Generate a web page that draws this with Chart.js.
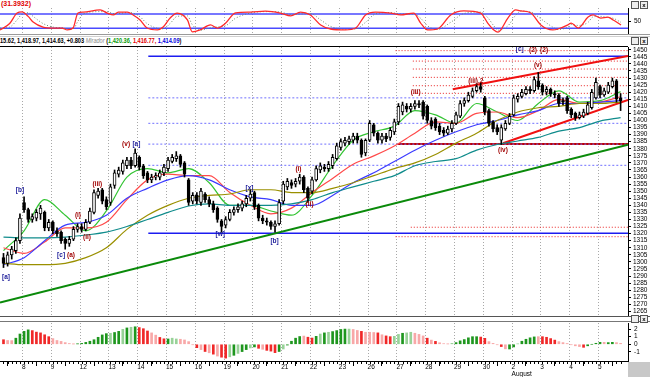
<!DOCTYPE html>
<html><head><meta charset="utf-8">
<script src="https://cdn.jsdelivr.net/npm/chart.js@4.4.0/dist/chart.umd.min.js"></script>
<style>
html,body{margin:0;padding:0;background:#fff;}
#wrap{position:relative;width:650px;height:377px;overflow:hidden;background:#fff;font-family:"Liberation Sans",Arial,sans-serif;}
canvas{position:absolute;left:0;}
.t{position:absolute;white-space:nowrap;line-height:1;}
.ln{position:absolute;}
.ic{position:absolute;width:6px;height:6px;border:1px solid #555;background:#eee;font:bold 6px "Liberation Sans",Arial;line-height:6px;text-align:center;color:#000;}
</style></head><body>
<div id="wrap">
<canvas id="osc" width="650" height="26" style="top:8px"></canvas>
<canvas id="main" width="650" height="269" style="top:47px"></canvas>
<canvas id="hist" width="650" height="54" style="top:323px"></canvas>

<div class="t" style="left:1px;top:0px;font:bold 7px 'Liberation Sans',Arial;color:#e00000">(31.3932)</div>
<div class="ic" style="left:631px;top:1px"></div><div class="ic" style="left:640px;top:1px">x</div>
<div class="ln" style="left:0;top:34px;width:650px;height:1px;background:#9a9a9a"></div>
<div class="ln" style="left:0;top:36px;width:650px;height:1px;background:#d0d0d0"></div>
<div class="t" style="left:0px;top:37px;font:bold 6.5px 'Liberation Sans Narrow','Liberation Sans',Arial;color:#000;transform:scaleX(0.86);transform-origin:0 0">15.62, 1,418.97, 1,414.63, +0.803 <span style="color:#8a8a8a;font-style:italic;font-weight:normal">Mirador</span> (<span style="color:#0a9a0a">1,420.36,</span> <span style="color:#e00000">1,416.77,</span> <span style="color:#0000e0">1,414.09</span>)</div>
<div class="ic" style="left:631px;top:37px"></div><div class="ic" style="left:640px;top:37px">x</div>
<div class="ln" style="left:0;top:46px;width:628px;height:1px;background:#000"></div>
<div class="ln" style="left:0;top:316px;width:650px;height:1px;background:#555"></div>
<div class="ln" style="left:0;top:321px;width:650px;height:1px;background:#777"></div>
<div class="ic" style="left:631px;top:315px"></div><div class="ic" style="left:640px;top:315px">x</div>
<div class="ln" style="left:628px;top:362px;width:22px;height:15px;background:#c8c8c8"></div>
</div>
<script>
// ---------- DATA ----------
const dayLabels = ['8','9','12','13','14','15','16','19','20','21','22','23','26','27','28','29','30','2','3','4','5'];
const dayStartIdx = [5,12,19,26,33,40,47,54,61,68,75,82,89,96,103,110,117,124,131,138,145];
const monthLabel = 'August';
const monthAt = 17;
const priceTicks = [1265,1270,1275,1280,1285,1290,1295,1300,1305,1310,1315,1320,1325,1330,1335,1340,1345,1350,1355,1360,1365,1370,1375,1380,1385,1390,1395,1400,1405,1410,1415,1420,1425,1430,1435,1440,1445,1450];

const opens = [1303,1299,1305,1308,1315,1342,1337,1330,1331,1334, 1335,1324,1328,1322,1321,1316,1313,1316,1323,1325, 1323,1328,1335,1347,1351,1344,1342,1354,1362,1364, 1368,1372,1368,1374,1368,1363,1358,1360,1360,1363, 1366,1371,1373,1375,1370,1358,1343,1347,1342,1348, 1344,1341,1338,1329,1326,1330,1335,1337,1338,1341, 1345,1349,1340,1331,1329,1328,1325,1327,1343,1353, 1356,1355,1357,1360,1352,1350,1358,1365,1367,1366, 1368,1373,1381,1384,1385,1386,1389,1386,1377,1386, 1397,1391,1386,1389,1388,1392,1399,1406,1410,1408, 1410,1412,1413,1410,1400,1401,1396,1393,1391,1394, 1398,1403,1412,1414,1417,1421,1424,1416,1407,1399, 1395,1386,1394,1398,1404,1415,1417,1419,1422,1421, 1428,1425,1420,1422,1419,1418,1414,1416,1408,1405, 1402,1403,1405,1409,1416,1424,1418,1420,1424,1428, 1416];
const highs = [1306,1307,1311,1317,1334,1346,1338,1334,1337,1340, 1336,1330,1329,1324,1322,1317,1318,1325,1327,1327, 1330,1338,1351,1352,1352,1346,1355,1365,1367,1372, 1374,1374,1380,1375,1369,1364,1362,1363,1365,1369, 1374,1376,1378,1376,1371,1359,1349,1349,1352,1349, 1346,1343,1339,1330,1332,1337,1339,1341,1343,1347, 1351,1350,1341,1333,1331,1329,1329,1344,1357,1359, 1358,1359,1362,1361,1353,1360,1368,1370,1369,1371, 1376,1384,1387,1388,1389,1391,1391,1387,1387,1400, 1398,1392,1391,1391,1395,1401,1412,1413,1412,1412, 1414,1414,1414,1411,1402,1402,1398,1395,1396,1400, 1406,1414,1416,1420,1423,1426,1427,1417,1408,1400, 1397,1397,1400,1405,1418,1419,1422,1424,1424,1431, 1434,1426,1424,1423,1421,1419,1416,1417,1409,1406, 1406,1408,1413,1422,1430,1425,1423,1427,1430,1429, 1419];
const lows = [1296,1297,1302,1306,1313,1335,1328,1328,1329,1330, 1322,1322,1320,1318,1313,1309,1311,1315,1321,1321, 1322,1327,1334,1345,1341,1337,1340,1352,1360,1362, 1366,1366,1367,1365,1359,1356,1356,1358,1358,1361, 1364,1370,1371,1367,1360,1340,1341,1341,1340,1342, 1339,1335,1328,1321,1324,1329,1333,1335,1336,1339, 1343,1337,1329,1327,1326,1323,1321,1326,1341,1351, 1352,1353,1355,1349,1342,1348,1357,1363,1364,1364, 1366,1372,1379,1382,1383,1384,1384,1374,1375,1385, 1389,1384,1384,1385,1386,1390,1397,1404,1406,1406, 1408,1409,1401,1398,1394,1393,1390,1389,1390,1392, 1397,1402,1410,1413,1416,1420,1420,1404,1396,1392, 1390,1383,1393,1397,1403,1413,1416,1418,1419,1420, 1422,1418,1418,1417,1416,1410,1411,1405,1402,1400, 1401,1402,1404,1408,1415,1416,1417,1419,1423,1413, 1407];
const closes = [1299,1305,1309,1315,1331,1337,1330,1332,1335,1338, 1324,1328,1322,1320,1315,1313,1316,1323,1325,1323, 1328,1336,1349,1350,1343,1339,1353,1363,1365,1370, 1372,1368,1377,1367,1361,1358,1360,1361,1363,1367, 1372,1374,1375,1369,1362,1342,1347,1343,1350,1344, 1341,1337,1330,1325,1330,1335,1337,1339,1341,1345, 1348,1339,1331,1329,1328,1325,1327,1342,1355,1357, 1354,1357,1360,1351,1345,1358,1366,1368,1366,1369, 1374,1382,1385,1386,1387,1389,1386,1376,1386,1398, 1391,1386,1389,1387,1393,1399,1410,1411,1408,1410, 1412,1411,1403,1400,1396,1395,1392,1391,1394,1398, 1404,1412,1414,1418,1421,1424,1422,1406,1398,1394, 1392,1395,1398,1403,1416,1417,1420,1422,1421,1429, 1424,1420,1422,1419,1418,1412,1413,1407,1404,1402, 1404,1406,1411,1420,1427,1418,1421,1425,1428,1415, 1414];

// moving averages read every 5 bars
const maIdx = [0,5,10,15,20,25,30,35,40,45,50,55,60,65,70,75,80,85,90,95,100,105,110,115,120,125,130,135,140,145,150];
const maGreen = [1308,1322,1344,1333,1322,1336,1360,1366,1363,1366,1356,1340,1340,1336,1333,1347,1368,1386,1392,1396,1407,1404,1398,1412,1406,1400,1412,1421,1413,1414,1420.4];
const maRed = [1310,1306,1314,1324,1324,1328,1344,1358,1362,1361,1361,1349,1340,1334,1338,1349,1359,1369,1375,1382,1391,1399,1398,1405,1406,1402,1407,1415,1412,1413,1416.8];
const maBlue = [1298,1303,1315,1326,1328,1333,1345,1352,1358,1361,1358,1351,1346,1344,1340,1340,1347,1356,1363,1371,1379,1386,1392,1397,1400,1404,1407,1412,1412,1413,1414.1];
const maOlive = [1299,1298,1298,1299,1303,1310,1323,1333,1340,1345,1347,1348,1351,1351,1349,1349,1352,1356,1361,1366,1370,1376,1384,1391,1400,1406,1409,1410,1412,1412,1413];
const maTeal = [1317.5,1317,1317,1317.5,1319,1321,1325,1330,1335,1339.5,1341,1340,1340,1340,1341,1344,1349,1353,1357,1361,1368,1371,1373,1379,1383,1385.5,1388,1392.5,1395,1399.6,1402];

// horizontal levels and trend lines
const blueSolidLevels = [1445.5, 1320.2];
const blueDotLevels = [1416, 1398, 1383.3, 1368.3];
const levelStartBlue = 35.2;
const redDotLevels = [1449.4, 1442, 1436.4, 1430.5, 1424.6, 1419.2, 1324.5, 1317.8];
const redDotStart = [95.3, 99.5, 99.5, 99.5, 99.5, 99.5, 99, 95.3];
const redSolidLevels = [1383.3];
const redSolidStart = 95.8;
const greenTrendIdx = [-0.85, 151.8], greenTrendVal = [1271.3, 1382.9];
const redUpperIdx = [109.2, 151.8], redUpperVal = [1422.1, 1445.6];
const redLowerIdx = [121.4, 151.8], redLowerVal = [1383.9, 1414.5];

// wave labels
const waveText = ['[a]','[b]','[c]','(a)','(i)','(ii)','(iii)','(v)','[a]','[w]','[x]','[b]','(i)','(ii)','(iii)','(iii).2','(v)','[c]','(2)','(2)','(iv)'];
const waveIdx = [0.6,4,14,16.4,18.1,20.3,22.8,29.8,32.3,52.7,59.8,65.9,71.7,74.4,100.2,114.8,129.9,125.5,128.7,131.4,121.4];
const wavePrice = [1289.3,1350.8,1304.9,1304.9,1333.2,1317.6,1355.1,1383.4,1383.4,1319.7,1352.3,1314.8,1365.7,1340.9,1420.1,1427.9,1439.2,1450.6,1449.9,1449.9,1379.1];
const waveKind = ['b','b','b','r','r','r','r','r','b','b','b','b','r','r','r','r','r','b','r','r','r'];

// top oscillator (stochastic-like)
const oscIdx = [-0.85,1.5,3.3,4.5,6,7.2,9.6,12.1,14.2,15.5,16.9,18.1,19.4,23.5,25.2,26.7,27.9,30.1,31.5,33.2,34.9,37.4,38.8,40.5,42.2,44.7,45.9,47.8,50.3,52,53.9,56.4,60,63.7,67.3,69.8,72.2,74.6,77.1,79.5,83.1,85.6,88,90.4,94.1,96.5,99.7,101.4,103.1,105.5,108.7,111.9,116,117.7,119.2,120.2,122.6,124.5,125.8,128.2,130.6,133.5,134.8,137.2,138,139.7,142.1,143.3,145.2,146.9,148.2,150.1];
const oscK = [13,40,84,89,70,46,25,21,21,13,21,84,88,97,84,76,88,88,76,55,21,13,25,63,84,55,5,13,34,21,40,85,88,92,84,72,88,76,34,17,13,21,76,88,84,76,84,42,13,17,76,93,84,42,13,4,63,97,93,84,34,13,17,34,42,21,67,76,63,67,55,34];
const oscD = [20,25,55,80,85,70,40,25,22,18,17,50,80,90,90,82,82,86,84,68,40,20,18,40,70,72,35,12,22,26,30,62,84,90,88,78,80,82,55,28,16,17,45,80,86,80,80,62,30,15,45,82,88,65,30,12,30,75,92,88,60,25,15,25,36,32,45,68,70,65,62,45];
const oscLevels = [80, 20];
const oscTicks = [50];

// bottom histogram
const histVals = [0.6,0.5,0.48,0.8,1.35,1.7,1.9,1.8,1.6,1.5, 1.25,1.0,0.75,0.5,0.38,0.22,0.1,0.03,0.05,0.12, 0.25,0.4,0.6,0.92,1.23,1.4,1.45,1.55,1.7,1.97, 2.15,2.24,2.3,2.2,2.05,1.75,1.5,1.2,0.9,0.72, 0.7,0.8,0.7,0.66,0.57,0.35,-0.05,-0.45,-0.7,-0.95, -1.12,-1.3,-1.55,-1.7,-1.82,-1.65,-1.45,-1.2,-0.96,-0.7, -0.48,-0.35,-0.53,-0.66,-0.8,-0.9,-1.1,-0.95,-0.62,-0.1, 0.4,0.8,1.02,1.08,0.93,0.82,1.05,1.35,1.5,1.58, 1.67,1.8,1.95,2.0,2.0,1.95,1.82,1.7,1.58,1.58, 1.55,1.5,1.25,1.1,1.0,1.05,1.3,1.45,1.5,1.58, 1.45,1.3,1.1,0.8,0.55,0.38,0.2,0.08,0.04,0.12, 0.22,0.45,0.62,0.85,1.0,1.0,0.95,0.78,0.35,0.12, -0.05,-0.3,-0.6,-0.62,-0.35,0.05,0.4,0.66,0.85,0.97, 1.0,1.0,0.92,0.75,0.55,0.35,0.22,0.1,-0.05,-0.2, -0.3,-0.4,-0.2,0.0,0.13,0.26,0.26,0.22,0.26,0.22, 0.12];
const histKind = ['r','p','p','g','g','g','g','r','r','r', 'r','r','p','p','p','p','p','p','g','g', 'g','g','g','g','g','g','lg','g','g','lg', 'g','lg','g','r','r','r','p','p','r','r', 'g','lg','lg','p','p','p','p','r','p','r', 'p','r','p','r','r','lg','g','lg','g','g', 'lg','g','r','p','r','r','r','g','lg','g', 'g','g','g','p','r','r','g','lg','g','lg', 'g','g','g','g','lg','p','p','r','p','p', 'p','r','p','r','r','lg','lg','g','lg','lg', 'p','p','p','r','p','r','p','p','p','lg', 'g','g','g','g','g','g','r','r','p','p', 'p','r','p','g','g','lg','g','g','g','g', 'p','r','r','r','r','p','p','p','p','p', 'p','r','g','g','g','g','p','g','g','p', 'p'];
const histTicks = [2,1,0,-1];

// ---------- STYLE / BUILD ----------
const X_MIN = -0.85, X_MAX = 151.8;
const FONT = "'Liberation Sans', Arial, sans-serif";
const histColors = {g:'#1e961e', lg:'#98d298', r:'#f02828', p:'#f8a8a8'};

function fixY(s){ s.width = 22; s.paddingTop = 0; s.paddingBottom = 0; }
function fixX(h){ return function(s){ s.height = h; s.paddingLeft = 0; s.paddingRight = 0; }; }

const dayGrid = {
  id:'dayGrid',
  beforeDatasetsDraw(chart){
    const {ctx, chartArea:a, scales:{x}} = chart;
    ctx.save(); ctx.strokeStyle='#a8a8a8'; ctx.lineWidth=1; ctx.setLineDash([1,2]);
    dayStartIdx.forEach(i=>{
      const px = Math.round(x.getPixelForValue(i-0.5))+0.5;
      ctx.beginPath(); ctx.moveTo(px,a.top); ctx.lineTo(px,a.bottom); ctx.stroke();
    });
    ctx.restore();
  }
};
const waves = {
  id:'waves',
  afterDatasetsDraw(chart){
    const {ctx, scales:{x,y}} = chart;
    ctx.save(); ctx.font='bold 6.5px '+FONT; ctx.textAlign='center'; ctx.textBaseline='middle';
    waveText.forEach((t,k)=>{
      ctx.fillStyle = waveKind[k]==='b' ? '#1a1a99' : '#a00000';
      ctx.fillText(t, x.getPixelForValue(waveIdx[k]), y.getPixelForValue(wavePrice[k]));
    });
    ctx.restore();
  }
};
const minorTicks = {
  id:'minorTicks',
  afterDraw(chart){
    const {ctx, chartArea:a, scales:{x}} = chart;
    ctx.save(); ctx.strokeStyle='#000'; ctx.lineWidth=1;
    for(let i=0;i<closes.length;i++){
      const px = Math.round(x.getPixelForValue(i))+0.5;
      ctx.beginPath(); ctx.moveTo(px,a.bottom); ctx.lineTo(px,a.bottom+3); ctx.stroke();
    }
    ctx.restore();
  }
};

function seg(x0,x1,v0,v1,color,width,dash,order){
  return {type:'line', data:[{x:x0,y:v0},{x:x1,y:v1}], borderColor:color, borderWidth:width, borderDash:dash||[], pointRadius:0, pointHoverRadius:0, fill:false, tension:0, order:order||5};
}
function maLine(vals,color){
  return {type:'line', data:maIdx.map((ix,k)=>({x:ix,y:vals[k]})), borderColor:color, borderWidth:1.2, pointRadius:0, pointHoverRadius:0, fill:false, tension:0.4, cubicInterpolationMode:'monotone', order:4};
}

const mainSets = [];
blueSolidLevels.forEach(p=>mainSets.push(seg(levelStartBlue,X_MAX,p,p,'#1c1cf0',1.5,[],6)));
blueDotLevels.forEach(p=>mainSets.push(seg(levelStartBlue,X_MAX,p,p,'#7070ff',1,[2,2],6)));
redDotLevels.forEach((p,k)=>mainSets.push(seg(redDotStart[k],X_MAX,p,p,'#e82020',1,[1,2],6)));
redSolidLevels.forEach(p=>mainSets.push(seg(redSolidStart,X_MAX,p,p,'#c00000',2,[],6)));
mainSets.push(seg(greenTrendIdx[0],greenTrendIdx[1],greenTrendVal[0],greenTrendVal[1],'#0a8a0a',2,[],5));
mainSets.push(seg(redUpperIdx[0],redUpperIdx[1],redUpperVal[0],redUpperVal[1],'#f01010',2,[],5));
mainSets.push(seg(redLowerIdx[0],redLowerIdx[1],redLowerVal[0],redLowerVal[1],'#f01010',2,[],5));
mainSets.push(maLine(maTeal,'#108c8c'));
mainSets.push(maLine(maOlive,'#9a9000'));
mainSets.push(maLine(maBlue,'#3b3bff'));
mainSets.push(maLine(maRed,'#ff4a4a'));
mainSets.push(maLine(maGreen,'#33c433'));
mainSets.push({type:'bar', data:closes.map((c,i)=>({x:i,y:[lows[i],highs[i]]})), backgroundColor:'#000', borderWidth:0, barThickness:1, grouped:false, order:2});
mainSets.push({type:'bar', data:closes.map((c,i)=>({x:i,y:[opens[i],c]})),
  backgroundColor:(ctx)=> closes[ctx.dataIndex]>=opens[ctx.dataIndex] ? '#ffffff' : '#000000',
  borderColor:'#000', borderWidth:1, borderSkipped:false, barThickness:3, grouped:false, order:1});

const baseOpts = {responsive:false, animation:false, devicePixelRatio:1, layout:{padding:0, autoPadding:false},
  plugins:{legend:{display:false}, tooltip:{enabled:false}}, events:[]};

new Chart(document.getElementById('main'), {
  type:'bar',
  data:{datasets:mainSets},
  options:Object.assign({}, baseOpts, {
    scales:{
      x:{type:'linear', min:X_MIN, max:X_MAX, offset:false, display:false},
      y:{type:'linear', position:'right', min:1261.73, max:1451.97, beginAtZero:false,
         afterBuildTicks(s){ s.ticks = priceTicks.map(v=>({value:v})); },
         afterFit:fixY,
         ticks:{autoSkip:false, font:{size:6.5, family:FONT}, color:'#000', padding:2, callback:(v)=>String(v)},
         grid:{drawOnChartArea:false, drawTicks:true, tickLength:3, color:'#000'},
         border:{display:true, color:'#000'}}
    }
  }),
  plugins:[dayGrid, waves]
});

new Chart(document.getElementById('osc'), {
  type:'line',
  data:{datasets:[
    ...oscLevels.map(v=>seg(X_MIN,X_MAX,v,v,'#4a4aff',1.5,[],6)),
    {type:'line', data:oscIdx.map((ix,k)=>({x:ix,y:oscD[k]})), borderColor:'#6a8a6a', borderWidth:1, borderDash:[1,2], pointRadius:0, pointHoverRadius:0, tension:0.4, cubicInterpolationMode:'monotone', order:3},
    {type:'line', data:oscIdx.map((ix,k)=>({x:ix,y:oscK[k]})), borderColor:'#ff2a2a', borderWidth:1.3, pointRadius:0, pointHoverRadius:0, tension:0.4, cubicInterpolationMode:'monotone', order:2}
  ]},
  options:Object.assign({}, baseOpts, {
    scales:{
      x:{type:'linear', min:X_MIN, max:X_MAX, display:false},
      y:{type:'linear', position:'right', min:-4, max:105.2,
         afterBuildTicks(s){ s.ticks = oscTicks.map(v=>({value:v})); },
         afterFit:fixY,
         ticks:{font:{size:6.5, family:FONT}, color:'#000', padding:3},
         grid:{drawOnChartArea:false, tickLength:3, color:'#000'},
         border:{display:true, color:'#000'}}
    }
  }),
  plugins:[dayGrid]
});

new Chart(document.getElementById('hist'), {
  type:'bar',
  data:{datasets:[{type:'bar', data:histVals.map((v,i)=>({x:i,y:v})), backgroundColor:histKind.map(k=>histColors[k]), borderWidth:0, barThickness:2}]},
  options:Object.assign({}, baseOpts, {
    scales:{
      x:{type:'linear', min:X_MIN, max:X_MAX, offset:false,
         afterBuildTicks(s){ s.ticks = dayStartIdx.map(i=>({value:i-0.5})); },
         afterFit:fixX(16),
         ticks:{autoSkip:false, maxRotation:0, align:'start', padding:-3, font:{size:6.5, family:FONT}, color:'#000',
           callback:(v,k)=> k===monthAt ? [dayLabels[k], monthLabel] : dayLabels[k]},
         grid:{drawOnChartArea:false, tickLength:5, color:'#000'},
         border:{display:true, color:'#000'}},
      y:{type:'linear', position:'right', min:-2.2, max:2.8, beginAtZero:false,
         afterBuildTicks(s){ s.ticks = histTicks.map(v=>({value:v})); },
         afterFit:fixY,
         ticks:{font:{size:6.5, family:FONT}, color:'#000', padding:3},
         grid:{drawOnChartArea:false, tickLength:3, color:'#000'},
         border:{display:true, color:'#000'}}
    }
  }),
  plugins:[dayGrid, minorTicks]
});
</script>
</body></html>
